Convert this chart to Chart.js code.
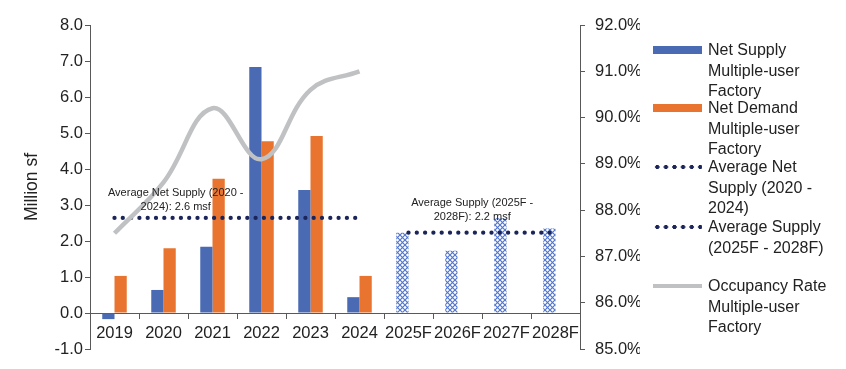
<!DOCTYPE html>
<html>
<head>
<meta charset="utf-8">
<script src="https://cdn.jsdelivr.net/npm/chart.js@4.4.1/dist/chart.umd.min.js"></script>
<style>
    body { margin: 0; background: #fff; font-family: "Liberation Sans", Arial, sans-serif; }
    #wrap { position: relative; width: 846px; height: 369px; }
    #legenda .item { position: absolute; left: 653px; font-size: 16px; line-height: 20.7px; color: #222; }
    #legenda .sw { position: absolute; left: 0; width: 49px; }
    #legenda .txt { position: absolute; left: 55px; white-space: nowrap; }
    .sw-azul { top: 6px; height: 8px; background: #4a6bb3; }
    .sw-laranja { top: 6px; height: 8px; background: #e8742f; }
    .sw-pontos { top: 7px; height: 6px; background: radial-gradient(circle, #1b2559 1.9px, transparent 2.3px) repeat-x; background-size: 8.6px 6px; }
    .sw-cinza { top: 8px; height: 4px; background: #bfc1c3; }
</style>
</head>
<body>
<div id="wrap">
    <canvas id="grafico"></canvas>
    <div id="legenda">
        <div class="item" style="top:40px"><div class="sw sw-azul"></div><div class="txt">Net Supply<br>Multiple-user<br>Factory</div></div>
        <div class="item" style="top:98px"><div class="sw sw-laranja"></div><div class="txt">Net Demand<br>Multiple-user<br>Factory</div></div>
        <div class="item" style="top:157px"><div class="sw sw-pontos"></div><div class="txt">Average Net<br>Supply (2020 -<br>2024)</div></div>
        <div class="item" style="top:217px"><div class="sw sw-pontos"></div><div class="txt">Average Supply<br>(2025F - 2028F)</div></div>
        <div class="item" style="top:276px"><div class="sw sw-cinza"></div><div class="txt">Occupancy Rate<br>Multiple-user<br>Factory</div></div>
    </div>
</div>
<script>
/* ===== DADOS ===== */

const anos = ['2019', '2020', '2021', '2022', '2023', '2024', '2025F', '2026F', '2027F', '2028F'];
const netSupply = [-0.17, 0.64, 1.84, 6.83, 3.42, 0.44, 2.23, 1.73, 2.63, 2.35];
const netDemand = [1.03, 1.80, 3.73, 4.77, 4.92, 1.03, null, null, null, null];
const mediaNetSupply = [2.64, 2.64, 2.64, 2.64, 2.64, 2.64, null, null, null, null];
const mediaSupplyPrev = [null, null, null, null, null, null, 2.23, 2.23, 2.23, 2.23];
const ocupacao = [87.5, 88.6, 90.2, 89.1, 90.6, 91.0, null, null, null, null];
const previsao = [false, false, false, false, false, false, true, true, true, true];

const ticksEsq = [-1, 0, 1, 2, 3, 4, 5, 6, 7, 8];
const ticksDir = [85, 86, 87, 88, 89, 90, 91, 92];

const AZUL = '#4a6bb3';
const LARANJA = '#e8742f';
const NAVY = '#1b2559';
const CINZA = '#bfc1c3';
const EIXO = '#595959';
const FONTE = '"Liberation Sans", Arial, sans-serif';

function padraoXadrez(cor) {
    const c = document.createElement('canvas');
    c.width = 5; c.height = 5;
    const g = c.getContext('2d');
    g.fillStyle = '#fff';
    g.fillRect(0, 0, 5, 5);
    g.strokeStyle = cor;
    g.lineWidth = 1.2;
    g.beginPath();
    g.moveTo(0, 0); g.lineTo(5, 5);
    g.moveTo(5, 0); g.lineTo(0, 5);
    g.stroke();
    return g.createPattern(c, 'repeat');
}

const hachura = padraoXadrez('#5477c8');
const coresSupply = previsao.map(f => f ? hachura : AZUL);

/* ===== ANOTAÇÕES ===== */

const anotacoes = {
    id: 'anotacoes',
    afterDatasetsDraw(chart) {
        const ctx = chart.ctx;
        const x = chart.scales.x;
        const y = chart.scales.y;
        ctx.save();
        ctx.font = '11px ' + FONTE;
        ctx.fillStyle = '#222';
        ctx.textAlign = 'center';
        ctx.textBaseline = 'middle';

        const x1 = x.getPixelForValue(1.25);
        const y1 = y.getPixelForValue(mediaNetSupply[0]);
        ctx.fillText('Average Net Supply (2020 -', x1, y1 - 25);
        ctx.fillText('2024): 2.6 msf', x1, y1 - 11);

        const x2 = x.getPixelForValue(7.3);
        const y2 = y.getPixelForValue(mediaSupplyPrev[6]);
        ctx.fillText('Average Supply (2025F -', x2, y2 - 30);
        ctx.fillText('2028F): 2.2 msf', x2, y2 - 16);
        ctx.restore();
    }
};

/* ===== GRÁFICO ===== */

new Chart(document.getElementById('grafico'), {
    type: 'bar',
    data: {
        labels: anos,
        datasets: [
            {
                type: 'line',
                label: 'Occupancy Rate Multiple-user Factory',
                data: ocupacao,
                yAxisID: 'y1',
                borderColor: CINZA,
                borderWidth: 4.5,
                tension: 0.4,
                pointRadius: 0,
                order: 0
            },
            {
                type: 'line',
                label: 'Average Net Supply (2020 - 2024)',
                data: mediaNetSupply,
                borderColor: NAVY,
                borderWidth: 4.3,
                borderDash: [0, 8.3],
                borderCapStyle: 'round',
                pointRadius: 0,
                order: 1
            },
            {
                type: 'line',
                label: 'Average Supply (2025F - 2028F)',
                data: mediaSupplyPrev,
                borderColor: NAVY,
                borderWidth: 4.3,
                borderDash: [0, 8.3],
                borderCapStyle: 'round',
                pointRadius: 0,
                order: 1
            },
            {
                label: 'Net Supply Multiple-user Factory',
                data: netSupply,
                backgroundColor: coresSupply,
                categoryPercentage: 0.5,
                barPercentage: 1.0,
                order: 2
            },
            {
                label: 'Net Demand Multiple-user Factory',
                data: netDemand,
                backgroundColor: LARANJA,
                categoryPercentage: 0.5,
                barPercentage: 1.0,
                order: 2
            }
        ]
    },
    options: {
        responsive: true,
        maintainAspectRatio: false,
        animation: false,
        layout: { padding: { left: 18, right: 206, top: 25, bottom: 20 } },
        plugins: {
            legend: { display: false },
            tooltip: { enabled: false }
        },
        scales: {
            x: {
                position: { y: 0 },
                grid: { drawOnChartArea: false, drawTicks: true, tickLength: 5, color: EIXO, offset: true },
                border: { color: EIXO, width: 1 },
                ticks: { color: '#222', font: { family: FONTE, size: 16.5 }, padding: 6, maxRotation: 0, autoSkip: false }
            },
            y: {
                position: 'left',
                min: ticksEsq[0],
                max: ticksEsq[ticksEsq.length - 1],
                afterBuildTicks: s => { s.ticks = ticksEsq.map(v => ({ value: v })); },
                afterFit: s => { s.width = 72; },
                grid: { drawOnChartArea: false, tickLength: 5, color: EIXO },
                border: { color: EIXO },
                ticks: { color: '#222', font: { family: FONTE, size: 16.5 }, padding: 2, callback: v => v.toFixed(1) },
                title: { display: true, text: 'Million sf', color: '#222', font: { family: FONTE, size: 17.5 } }
            },
            y1: {
                position: 'right',
                min: ticksDir[0],
                max: ticksDir[ticksDir.length - 1],
                afterBuildTicks: s => { s.ticks = ticksDir.map(v => ({ value: v })); },
                afterFit: s => { s.width = 60; },
                grid: { drawOnChartArea: false, tickLength: 5, color: EIXO },
                border: { color: EIXO },
                ticks: { color: '#222', font: { family: FONTE, size: 16.5 }, padding: 10, callback: v => v.toFixed(1) + '%' }
            }
        }
    },
    plugins: [anotacoes]
});
</script>
</body>
</html>
